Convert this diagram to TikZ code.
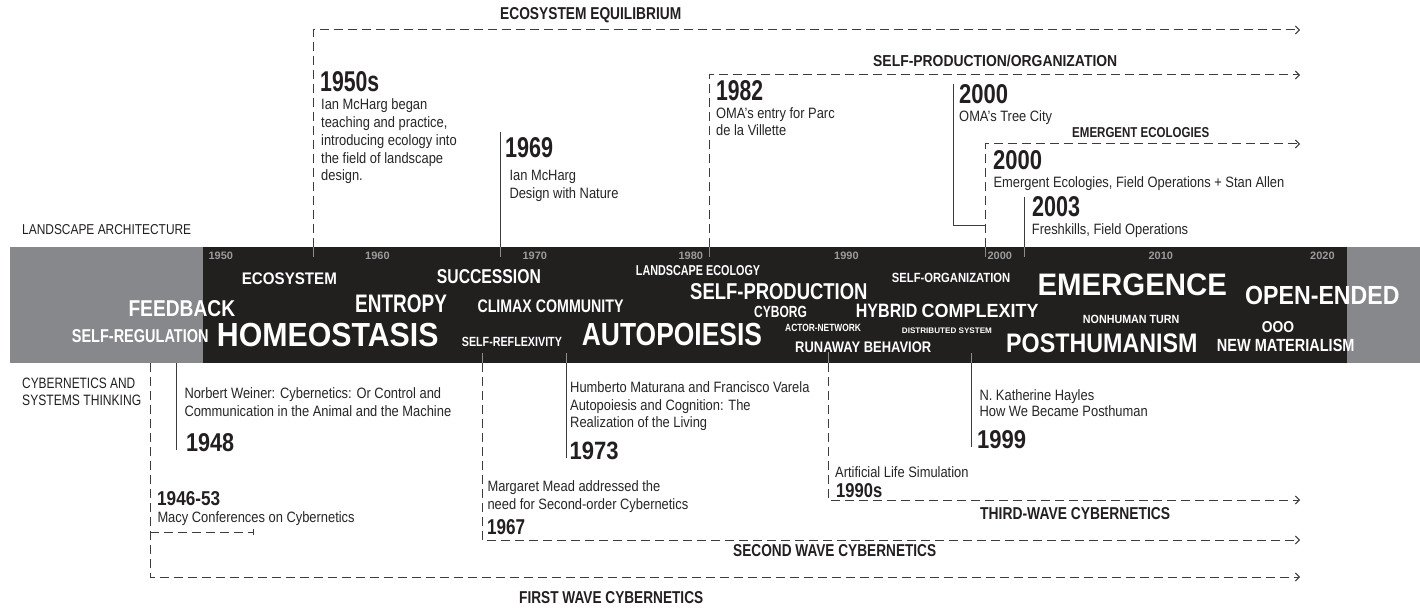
\documentclass[tikz,border=0pt]{standalone}
\usepackage{fontspec}
\usepackage{graphicx}
\usetikzlibrary{arrows.meta}
\setmainfont{Liberation Sans}[FakeStretch=0.86]

\definecolor{bandblack}{HTML}{221F1F}
\definecolor{bandgray}{HTML}{87888C}
\definecolor{decadegray}{HTML}{9B9B9B}
\definecolor{ink}{HTML}{231F20}
\definecolor{bodyink}{HTML}{262626}
\definecolor{linegray}{HTML}{3C3C3C}
\definecolor{tickgray}{HTML}{8C8C8C}

% text fitted to a given width and cap height (in pt)
\newcommand\fw[3]{\resizebox{#1pt}{#2pt}{#3}}

\tikzset{
  word/.style={anchor=base west, inner sep=0pt, text=white, font=\bfseries},
  decade/.style={anchor=base west, inner sep=0pt, text=decadegray, font=\bfseries},
  yearlbl/.style={anchor=base west, inner sep=0pt, text=ink, font=\bfseries},
  side/.style={anchor=base west, inner sep=0pt, text=ink},
  desc/.style={anchor=base west, inner sep=0pt, text=bodyink, font=\fontsize{15}{18}\selectfont},
  dashedline/.style={draw=linegray, line width=1pt, dash pattern=on 9pt off 5pt},
  solidline/.style={draw=linegray, line width=1pt},
  bandtick/.style={draw=tickgray, line width=1pt},
  tip/.style={-{Straight Barb[length=4pt,width=8pt]}},
  bartip/.style={-{Bar[width=6pt,line width=1.4pt]}}
}

\begin{document}
\begin{tikzpicture}[x=1pt,y=-1pt]
\useasboundingbox[fill=white] (0,0) rectangle (1420,609);

% ---------- timeline band ----------
\fill[bandgray] (10,247) rectangle (1420,363);
\fill[bandblack] (203,247) rectangle (1347,363);

% decades
\node[decade] (d1950) at (208.3,260) {\fw{24.5}{7.5}{1950}};
\node[decade] (d1960) at (365,260) {\fw{24.5}{7.5}{1960}};
\node[decade] (d1970) at (522.3,260) {\fw{24.5}{7.5}{1970}};
\node[decade] (d1980) at (678.3,260) {\fw{24.5}{7.5}{1980}};
\node[decade] (d1990) at (834,260) {\fw{24.5}{7.5}{1990}};
\node[decade] (d2000) at (987.3,260) {\fw{24.5}{7.5}{2000}};
\node[decade] (d2010) at (1148.3,260) {\fw{24.5}{7.5}{2010}};
\node[decade] (d2020) at (1310,260) {\fw{24.5}{7.5}{2020}};

% concepts
\node[word] (w-eco) at (241.7,285) {\fw{95}{11.7}{ECOSYSTEM}};
\node[word] (w-feed) at (128.3,316.7) {\fw{106.7}{16}{FEEDBACK}};
\node[word] (w-selfreg) at (71.7,342.3) {\fw{136.6}{13}{SELF-REGULATION}};
\node[word] (w-homeo) at (216.7,346.7) {\fw{221.6}{23.3}{HOMEOSTASIS}};
\node[word] (w-entropy) at (355,312.7) {\fw{91.7}{17.7}{ENTROPY}};
\node[word] (w-succ) at (436.7,283.3) {\fw{104}{14}{SUCCESSION}};
\node[word] (w-climax) at (477.3,312.7) {\fw{146}{12.7}{CLIMAX COMMUNITY}};
\node[word] (w-reflex) at (461.7,346) {\fw{100}{9.3}{SELF-REFLEXIVITY}};
\node[word] (w-auto) at (581.7,345) {\fw{180}{22.3}{AUTOPOIESIS}};
\node[word] (w-landeco) at (635.7,276) {\fw{124.3}{10}{LANDSCAPE ECOLOGY}};
\node[word] (w-selfprod) at (690,300) {\fw{177.3}{16}{SELF-PRODUCTION}};
\node[word] (w-cyborg) at (754,317.3) {\fw{52.7}{11.3}{CYBORG}};
\node[word] (w-ant) at (785,331.3) {\fw{75.7}{7.3}{ACTOR-NETWORK}};
\node[word] (w-runaway) at (795,352.3) {\fw{136}{10.7}{RUNAWAY BEHAVIOR}};
\node[word] (w-selforg) at (891.7,282.7) {\fw{118.3}{9.3}{SELF-ORGANIZATION}};
\node[word] (w-hybrid) at (855.7,317.3) {\fw{61.5}{13.3}{HYBRID}};
\node[word] (w-complex) at (921.5,317.3) {\fw{116.8}{13.3}{COMPLEXITY}};
\node[word] (w-distrib) at (901.7,333.3) {\fw{90}{5.6}{DISTRIBUTED SYSTEM}};
\node[word] (w-emerg) at (1037.3,295) {\fw{189.4}{21.7}{EMERGENCE}};
\node[word] (w-open) at (1245,305) {\fw{154.3}{18.3}{OPEN-ENDED}};
\node[word] (w-nonhuman) at (1082.7,323.3) {\fw{96.6}{8.3}{NONHUMAN TURN}};
\node[word] (w-ooo) at (1261.7,332.7) {\fw{32.3}{11}{OOO}};
\node[word] (w-posthum) at (1006,352.7) {\fw{191.3}{18.7}{POSTHUMANISM}};
\node[word] (w-newmat) at (1216.7,351.7) {\fw{137.6}{12.3}{NEW MATERIALISM}};

% ---------- side headings ----------
\node[side] (s-land) at (22,235) {\fw{169}{10}{LANDSCAPE ARCHITECTURE}};
\node[side] (s-cyb1) at (22,388) {\fw{113}{10.5}{CYBERNETICS AND}};
\node[side] (s-cyb2) at (22,405) {\fw{119}{10.5}{SYSTEMS THINKING}};

% ---------- landscape architecture events ----------
\coordinate (eq-base) at (313,247);
\coordinate (eq-tick) at (313,257);
\coordinate (eq-corner) at (313,30);
\coordinate (eq-end) at (1300,30);
\draw[dashedline,tip] (eq-base) -- (eq-corner) -- (eq-end);
\draw[bandtick] (eq-base) -- (eq-tick);
\node[yearlbl] (eq-title) at (500,19.5) {\fw{181}{12}{ECOSYSTEM EQUILIBRIUM}};
\node[yearlbl] (y1950s) at (320,92) {\fw{59}{20}{1950s}};
\node[desc] (t1950-1) at (321,110) {Ian McHarg began};
\node[desc] (t1950-2) at (321,127.7) {teaching and practice,};
\node[desc] (t1950-3) at (321,145.4) {introducing ecology into};
\node[desc] (t1950-4) at (321,163.1) {the field of landscape};
\node[desc] (t1950-5) at (321,180.8) {design.};

\coordinate (mh-top) at (500,132);
\coordinate (mh-base) at (500,247);
\coordinate (mh-tick) at (500,257);
\draw[solidline] (mh-top) -- (mh-base);
\draw[bandtick] (mh-base) -- (mh-tick);
\node[yearlbl] (y1969) at (505,158) {\fw{48}{20}{1969}};
\node[desc] (t1969-1) at (509.3,181) {Ian McHarg};
\node[desc] (t1969-2) at (509.3,198.5) {Design with Nature};

\coordinate (sp-base) at (709,247);
\coordinate (sp-tick) at (709,257);
\coordinate (sp-corner) at (709,75);
\coordinate (sp-end) at (1300,75);
\draw[dashedline,tip] (sp-base) -- (sp-corner) -- (sp-end);
\draw[bandtick] (sp-base) -- (sp-tick);
\node[yearlbl] (sp-title) at (873,66.5) {\fw{244}{11.5}{SELF-PRODUCTION/ORGANIZATION}};
\node[yearlbl] (y1982) at (716,101) {\fw{47}{20}{1982}};
\node[desc] (t1982-1) at (716,119) {OMA’s entry for Parc};
\node[desc] (t1982-2) at (716,135.5) {de la Villette};

\coordinate (tc-top) at (953,84);
\coordinate (tc-corner) at (953,226);
\coordinate (tc-join) at (985,226);
\draw[solidline] (tc-top) -- (tc-corner) -- (tc-join);
\node[yearlbl] (y2000a) at (959,104) {\fw{49}{19}{2000}};
\node[desc] (t2000a) at (959,121.7) {OMA’s Tree City};

\coordinate (ee-base) at (985,247);
\coordinate (ee-tick) at (985,257);
\coordinate (ee-corner) at (985,144);
\coordinate (ee-end) at (1300,144);
\draw[dashedline,tip] (ee-base) -- (ee-corner) -- (ee-end);
\draw[bandtick] (ee-base) -- (ee-tick);
\node[yearlbl] (ee-title) at (1072,137.5) {\fw{137}{10}{EMERGENT ECOLOGIES}};
\node[yearlbl] (y2000b) at (993,170) {\fw{49}{19}{2000}};
\node[desc] (t2000b) at (993.3,187.3) {Emergent Ecologies, Field Operations + Stan Allen};

\coordinate (fk-top) at (1024,197);
\coordinate (fk-base) at (1024,247);
\coordinate (fk-tick) at (1024,257);
\draw[solidline] (fk-top) -- (fk-base);
\draw[bandtick] (fk-base) -- (fk-tick);
\node[yearlbl] (y2003) at (1032,217) {\fw{48}{20}{2003}};
\node[desc] (t2003) at (1031.7,235) {Freshkills, Field Operations};

% ---------- cybernetics events ----------
\coordinate (fw-base) at (150,363);
\coordinate (fw-corner) at (150,577);
\coordinate (fw-end) at (1300,577);
\draw[dashedline,tip] (fw-base) -- (fw-corner) -- (fw-end);
\node[yearlbl] (fw-title) at (519,603) {\fw{184}{12}{FIRST WAVE CYBERNETICS}};

\coordinate (macy-start) at (150,532);
\coordinate (macy-end) at (254,532);
\draw[dashedline,bartip] (macy-start) -- (macy-end);
\node[yearlbl] (y1946) at (157,505) {\fw{63}{14}{1946-53}};
\node[desc] (t1946) at (157.3,522.3) {Macy Conferences on Cybernetics};

\coordinate (nw-base) at (176,363);
\coordinate (nw-end) at (176,450);
\draw[solidline] (nw-base) -- (nw-end);
\node[desc] (t1948-1) at (184.3,398.3) {Norbert Weiner: Cybernetics: Or Control and};
\node[desc] (t1948-2) at (184.3,416.5) {Communication in the Animal and the Machine};
\node[yearlbl] (y1948) at (186,451) {\fw{48}{18}{1948}};

\coordinate (sw-base) at (482,363);
\coordinate (sw-tick) at (482,353);
\coordinate (sw-corner) at (482,540);
\coordinate (sw-end) at (1300,540);
\draw[dashedline,tip] (sw-base) -- (sw-corner) -- (sw-end);
\draw[bandtick] (sw-base) -- (sw-tick);
\node[yearlbl] (sw-title) at (733,556) {\fw{203}{12}{SECOND WAVE CYBERNETICS}};
\node[desc] (t1967-1) at (487.3,491.7) {Margaret Mead addressed the};
\node[desc] (t1967-2) at (487.3,509.3) {need for Second-order Cybernetics};
\node[yearlbl] (y1967) at (487,534) {\fw{38}{15}{1967}};

\coordinate (mv-base) at (566,363);
\coordinate (mv-tick) at (566,353);
\coordinate (mv-end) at (566,458);
\draw[solidline] (mv-base) -- (mv-end);
\draw[bandtick] (mv-base) -- (mv-tick);
\node[desc] (t1973-1) at (570,392.3) {Humberto Maturana and Francisco Varela};
\node[desc] (t1973-2) at (570,410) {Autopoiesis and Cognition: The};
\node[desc] (t1973-3) at (570,427.7) {Realization of the Living};
\node[yearlbl] (y1973) at (569.3,459.3) {\fw{49}{17.5}{1973}};

\coordinate (tw-base) at (828,363);
\coordinate (tw-tick) at (828,352);
\coordinate (tw-corner) at (828,500);
\coordinate (tw-end) at (1300,500);
\draw[dashedline,tip] (tw-base) -- (tw-corner) -- (tw-end);
\draw[bandtick] (tw-base) -- (tw-tick);
\node[yearlbl] (tw-title) at (980,519) {\fw{190}{12}{THIRD-WAVE CYBERNETICS}};
\node[desc] (t1990) at (835,477) {Artificial Life Simulation};
\node[yearlbl] (y1990s) at (836,497.5) {\fw{46}{14}{1990s}};

\coordinate (kh-base) at (971,363);
\coordinate (kh-tick) at (971,353);
\coordinate (kh-end) at (971,447);
\draw[solidline] (kh-base) -- (kh-end);
\draw[bandtick] (kh-base) -- (kh-tick);
\node[desc] (t1999-1) at (979.3,400) {N. Katherine Hayles};
\node[desc] (t1999-2) at (979.3,416) {How We Became Posthuman};
\node[yearlbl] (y1999) at (977,448) {\fw{49}{18}{1999}};

\end{tikzpicture}
\end{document}
